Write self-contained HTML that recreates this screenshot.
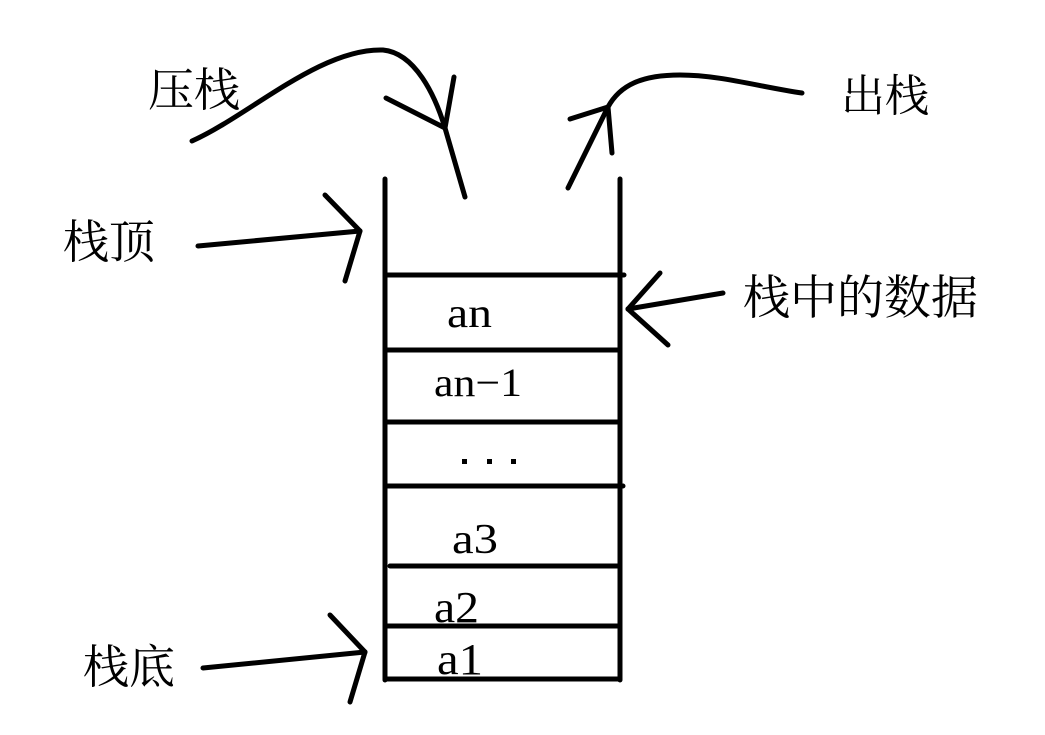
<!DOCTYPE html>
<html>
<head>
<meta charset="utf-8">
<style>
html,body{margin:0;padding:0;background:#fff;}
svg{display:block;}
.cjk{font-family:"Noto Serif CJK SC","Noto Serif CJK JP","Liberation Serif",serif;fill:#000;}
.lat{font-family:"Liberation Serif",serif;fill:#000;}
</style>
</head>
<body>
<svg width="1045" height="735" viewBox="0 0 1045 735" xmlns="http://www.w3.org/2000/svg">
<rect width="1045" height="735" fill="#fff"/>
<g fill="none" stroke="#000" stroke-width="5" stroke-linecap="round" stroke-linejoin="round">
  <!-- stack walls -->
  <line x1="385" y1="179" x2="385" y2="680"/>
  <line x1="620" y1="179" x2="620" y2="680"/>
  <line x1="385" y1="679" x2="620" y2="679"/>
  <!-- separators -->
  <line x1="385" y1="275" x2="624" y2="275"/>
  <line x1="385" y1="350" x2="620" y2="350"/>
  <line x1="385" y1="422" x2="620" y2="422"/>
  <line x1="385" y1="486" x2="623" y2="486"/>
  <line x1="390" y1="566" x2="620" y2="566"/>
  <line x1="385" y1="626" x2="620" y2="626"/>

  <!-- push curve -->
  <path d="M192 141 C250 115, 320 48, 383 50 C415 53, 435 95, 445 128 L465 197"/>
  <line x1="386" y1="98" x2="445" y2="128"/>
  <line x1="454" y1="77" x2="445" y2="128"/>

  <!-- pop curve -->
  <path d="M568 188 L608 107 C620 85, 642 75, 680 75 C720 75, 760 87, 802 93"/>
  <line x1="570" y1="119" x2="608" y2="107"/>
  <line x1="612" y1="153" x2="608" y2="107"/>

  <!-- top arrow -->
  <line x1="198" y1="246" x2="360" y2="231"/>
  <line x1="325" y1="195" x2="360" y2="231"/>
  <line x1="345" y1="281" x2="360" y2="231"/>

  <!-- bottom arrow -->
  <line x1="203" y1="668" x2="365" y2="652"/>
  <line x1="330" y1="615" x2="365" y2="652"/>
  <line x1="350" y1="702" x2="365" y2="652"/>

  <!-- data arrow -->
  <line x1="723" y1="293" x2="628" y2="309"/>
  <line x1="660" y1="273" x2="628" y2="309"/>
  <line x1="668" y1="345" x2="628" y2="309"/>
</g>

<!-- labels -->
<text class="cjk" x="148" y="106" font-size="46">压栈</text>
<text class="cjk" x="841" y="111" font-size="44">出栈</text>
<text class="cjk" x="63" y="258" font-size="46">栈顶</text>
<text class="cjk" x="83" y="683" font-size="46">栈底</text>
<text class="cjk" x="743" y="314" font-size="47">栈中的数据</text>

<!-- stack items -->
<text class="lat" x="447" y="327" font-size="42" textLength="45" lengthAdjust="spacingAndGlyphs">an</text>
<text class="lat" x="434" y="396" font-size="40" textLength="88" lengthAdjust="spacingAndGlyphs">an−1</text>
<g fill="#000">
  <rect x="462" y="459" width="5" height="5"/>
  <rect x="487" y="459" width="5" height="5"/>
  <rect x="511" y="459" width="5" height="5"/>
</g>
<text class="lat" x="452" y="553" font-size="42" textLength="46" lengthAdjust="spacingAndGlyphs">a3</text>
<text class="lat" x="434" y="622" font-size="44" textLength="45" lengthAdjust="spacingAndGlyphs">a2</text>
<text class="lat" x="437" y="674" font-size="44" textLength="46" lengthAdjust="spacingAndGlyphs">a1</text>
</svg>
</body>
</html>
